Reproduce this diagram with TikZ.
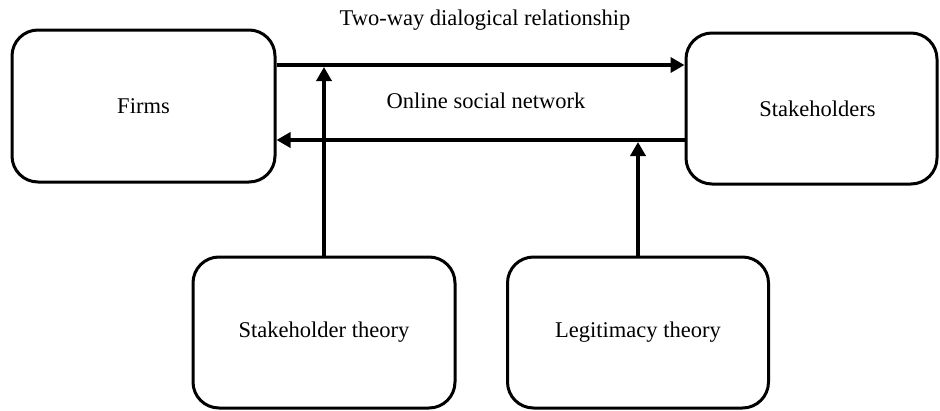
\documentclass[tikz,border=0pt]{standalone}
\usepackage{fontspec}
\setmainfont{Liberation Serif}
\usetikzlibrary{arrows.meta}
\begin{document}
\begin{tikzpicture}[x=1pt,y=-1pt,
  box/.style={draw,line width=3pt,rounded corners=26pt,align=center,font=\fontsize{22.5}{26}\selectfont},
  conn/.style={line width=3.5pt,-{Triangle[length=14pt,width=15pt]}},
  lbl/.style={font=\fontsize{22.5}{26}\selectfont}]
\useasboundingbox (0,0) rectangle (940,410);
\node[box,minimum width=263pt,minimum height=152pt] (F) at (143.5,106) {Firms};
\node[box,minimum width=251pt,minimum height=151pt] (S) at (811.5,108.5) {\hspace*{12pt}Stakeholders};
\node[box,minimum width=262pt,minimum height=151pt] (ST) at (324,332.5) {Stakeholder theory};
\node[box,minimum width=261pt,minimum height=151pt] (LT) at (638,332.5) {Legitimacy theory};
\coordinate (t1) at (0,65);
\coordinate (t2) at (0,140);
\draw[conn] (F.east |- t1) -- (S.west |- t1);
\draw[conn] (S.west |- t2) -- (F.east |- t2);
\draw[conn,shorten >=2pt] (ST.north) -- (ST.north |- t1);
\draw[conn,shorten >=2pt] (LT.north) -- (LT.north |- t2);
\node[lbl] (tw) at (485,20) {Two-way dialogical relationship};
\node[lbl] (os) at (486,101) {Online social network};
\end{tikzpicture}
\end{document}
